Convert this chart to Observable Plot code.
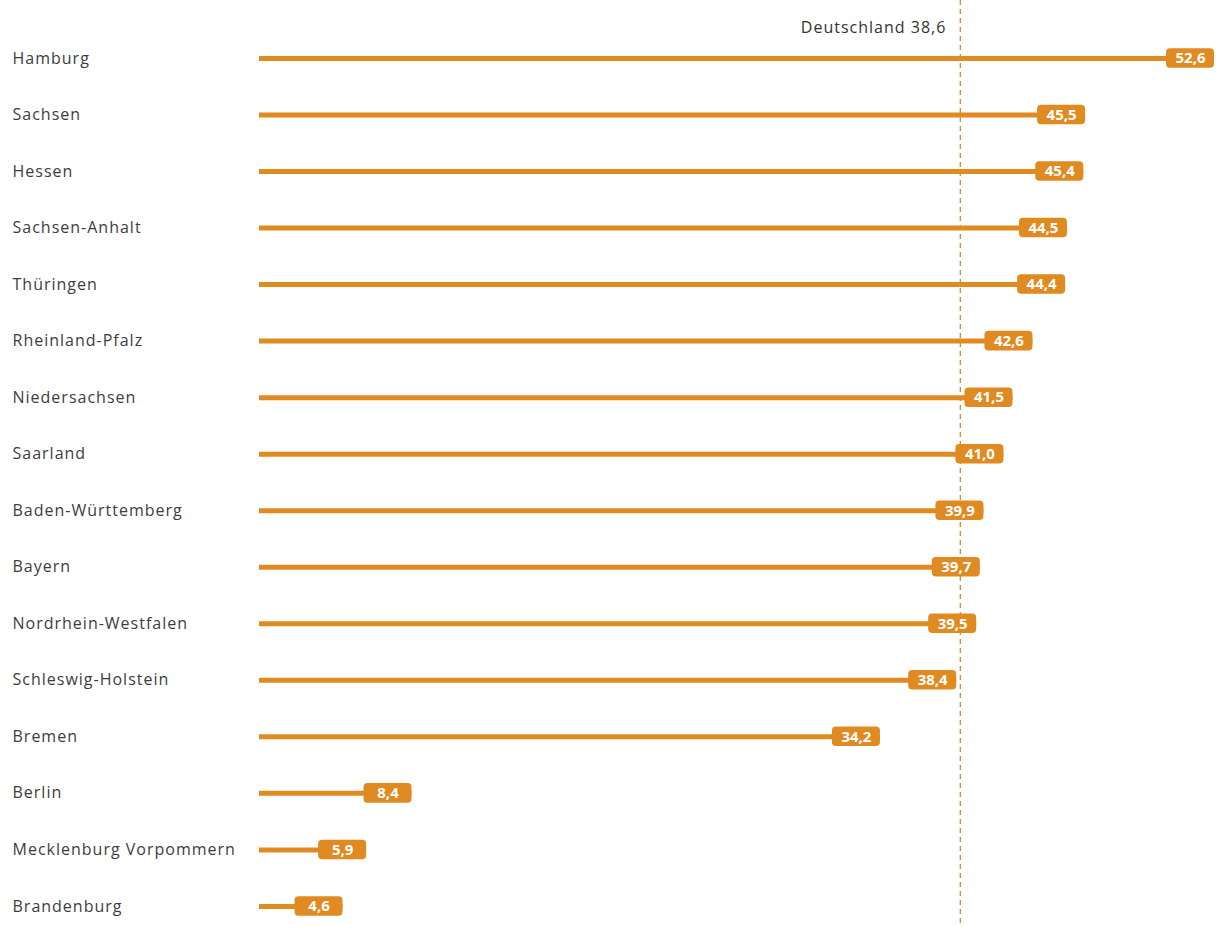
<!DOCTYPE html>
<html><head><meta charset="utf-8">
<script src="https://cdn.jsdelivr.net/npm/d3@7"></script>
<script src="https://cdn.jsdelivr.net/npm/@observablehq/plot@0.6"></script>
<style>
body{margin:0;background:#fff;}
#chart svg{display:block;}
</style>
</head><body><div id="chart"></div>
<script>
const states = ["Hamburg","Sachsen","Hessen","Sachsen-Anhalt","Thüringen","Rheinland-Pfalz","Niedersachsen","Saarland","Baden-Württemberg","Bayern","Nordrhein-Westfalen","Schleswig-Holstein","Bremen","Berlin","Mecklenburg Vorpommern","Brandenburg"];
const values = [52.6,45.5,45.4,44.5,44.4,42.6,41.5,41.0,39.9,39.7,39.5,38.4,34.2,8.4,5.9,4.6];
const germany = 38.6;
const germanyLabel = "Deutschland 38,6";

const data = states.map((s,i)=>({state:s, value:values[i]}));
const fmt = v => v.toFixed(1).replace(".", ",");
const orange = "#e08a22";

const chart = Plot.plot({
  width: 1221,
  height: 927,
  marginLeft: 259,
  marginRight: 7,
  marginTop: 0,
  marginBottom: 0,
  x: {domain:[0,52.6], axis:null},
  y: {type:"band", domain: states, range:[29.7, 934.2], padding:0, round:false, axis:null},
  style: {fontFamily:"'Open Sans', sans-serif", background:"#fff"},
  marks: [
    Plot.ruleX([germany], {stroke: "#d98a2a", strokeWidth:1.3, strokeDasharray:"5,4"}),
    Plot.text([germanyLabel], {x: germany, frameAnchor:"top", dy:21, dx:-14, textAnchor:"end", text:d=>d, fill:"#333", fontSize:16}),
    Plot.ruleY(data, {y:"state", x1:0, x2:"value", stroke: orange, strokeWidth:5}),
    Plot.rect(data, {y:"state", x1:"value", x2:"value", insetLeft:-48, insetTop:18.5, insetBottom:18.5, fill: orange, rx:4}),
    Plot.text(data, {y:"state", x:"value", dx:-24, text:d=>fmt(d.value), fill:"#fff", fontWeight:"bold", fontSize:15}),
    Plot.text(data, {y:"state", frameAnchor:"left", dx:-247, textAnchor:"start", text:"state", fill:"#3d3d3d", fontSize:16})
  ]
});
d3.select(chart).selectAll("text")
  .filter(function(){ return states.includes(this.textContent) || this.textContent === germanyLabel; })
  .style("letter-spacing", "1px");
document.getElementById("chart").append(chart);
</script>
</body></html>
